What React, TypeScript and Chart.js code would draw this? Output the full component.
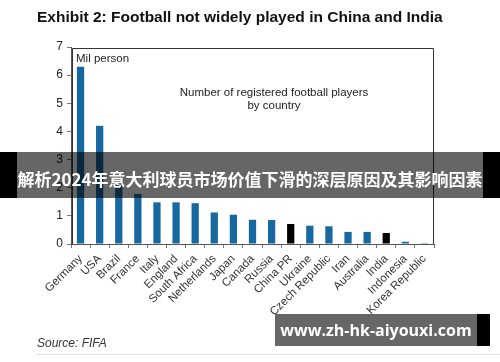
import React, { useEffect, useRef } from "react";
import { Chart, registerables } from "chart.js";

Chart.register(...registerables);

const categories = [
  "Germany", "USA", "Brazil", "France", "Italy", "England", "South Africa",
  "Netherlands", "Japan", "Canada", "Russia", "China PR", "Ukraine",
  "Czech Republic", "Iran", "Australia", "India", "Indonesia", "Korea Republic",
];
const players = [6.3, 4.2, 2.1, 1.78, 1.48, 1.48, 1.45, 1.12, 1.04, 0.86, 0.85, 0.71, 0.65, 0.63, 0.43, 0.43, 0.39, 0.08, 0.03];
const highlighted = ["China PR", "India"];
const yTicks = [0, 1, 2, 3, 4, 5, 6, 7];

const titleText = "Exhibit 2: Football not widely played in China and India";
const unitText = "Mil person";
const noteLines = ["Number of registered football players", "by country"];
const sourceText = "Source: FIFA";
const bannerText = "解析2024年意大利球员市场价值下滑的深层原因及其影响因素";
const watermarkText = "www.zh-hk-aiyouxi.com";

const BLUE = "#1767a0";
const FONT = "'Liberation Sans', Arial, Helvetica, sans-serif";

const decorPlugin = {
  id: "decor",
  afterDraw(chart: any) {
    const { ctx, chartArea } = chart;
    const { left, top, right, bottom } = chartArea;
    ctx.save();
    // plot box
    ctx.strokeStyle = "#333";
    ctx.lineWidth = 1;
    ctx.beginPath();
    ctx.moveTo(left + 1.5, bottom);
    ctx.lineTo(left + 1.5, top + 1.5);
    ctx.lineTo(right - 0.5, top + 1.5);
    ctx.lineTo(right - 0.5, bottom);
    ctx.stroke();
    // title
    ctx.fillStyle = "#111";
    ctx.font = `bold 15.5px ${FONT}`;
    ctx.textBaseline = "alphabetic";
    ctx.textAlign = "left";
    ctx.fillText(titleText, 37, 22);
    // unit
    ctx.font = `11.5px ${FONT}`;
    ctx.fillStyle = "#222";
    ctx.fillText(unitText, left + 5, top + 15);
    // note
    ctx.textAlign = "center";
    ctx.fillText(noteLines[0], 274, 96);
    ctx.fillText(noteLines[1], 274, 109);
    // source
    ctx.textAlign = "left";
    ctx.font = `italic 12px ${FONT}`;
    ctx.fillStyle = "#333";
    ctx.fillText(sourceText, 37, 347);
    ctx.strokeStyle = "#dde3ea";
    ctx.beginPath();
    ctx.moveTo(36, 354.5);
    ctx.lineTo(500, 354.5);
    ctx.stroke();
    ctx.restore();
  },
};

export default function App() {
  const ref = useRef<HTMLCanvasElement | null>(null);

  useEffect(() => {
    if (!ref.current) return;
    const chart = new Chart(ref.current, {
      type: "bar",
      data: {
        labels: categories,
        datasets: [
          {
            data: players,
            backgroundColor: categories.map((c) => (highlighted.includes(c) ? "#000" : BLUE)),
            barPercentage: 0.38,
            categoryPercentage: 1,
          },
        ],
      },
      options: {
        animation: false,
        responsive: true,
        maintainAspectRatio: false,
        layout: { padding: { left: 0, top: 47, right: 66, bottom: 0 } },
        plugins: { legend: { display: false }, tooltip: { enabled: false }, title: { display: false } },
        scales: {
          x: {
            afterFit: (s: any) => { s.height = 118; },
            grid: { drawOnChartArea: false, tickLength: 4, color: "#777", offset: true },
            border: { color: "#555" },
            ticks: {
              autoSkip: false,
              minRotation: 45,
              maxRotation: 45,
              padding: 4,
              color: "#333",
              font: { size: 11.5, family: FONT },
            },
          },
          y: {
            min: 0,
            max: 7,
            afterFit: (s: any) => { s.width = 71; },
            afterBuildTicks: (s: any) => { s.ticks = yTicks.map((v) => ({ value: v })); },
            grid: { drawOnChartArea: false, tickLength: 4, color: "#777" },
            border: { color: "#555" },
            ticks: { color: "#222", padding: 4, font: { size: 12, family: FONT } },
          },
        },
      },
      plugins: [decorPlugin],
    });
    return () => chart.destroy();
  }, []);

  return (
    <div style={{ position: "absolute", left: 0, top: 0, width: 500, height: 362, background: "#fff", overflow: "hidden" }}>
      <canvas ref={ref} width={500} height={362} />
      <div style={{ position: "absolute", left: 0, top: 152, width: 17, height: 46, background: "#000" }} />
      <div style={{ position: "absolute", left: 483, top: 152, width: 17, height: 46, background: "#000" }} />
      <div
        style={{
          position: "absolute", left: 17, top: 152, width: 466, height: 46,
          background: "rgba(0,0,0,0.6)", color: "#fff",
          font: `bold 17px 'Noto Sans CJK SC', sans-serif`,
          display: "flex", alignItems: "center", justifyContent: "center",
          whiteSpace: "nowrap", paddingTop: 6, boxSizing: "border-box",
        }}
      >
        {bannerText}
      </div>
      <div
        style={{
          position: "absolute", left: 275, top: 314, width: 202, height: 32,
          background: "rgba(0,0,0,0.6)", color: "#fff",
          font: `bold 16px 'Open Sans', sans-serif`,
          display: "flex", alignItems: "center", justifyContent: "center",
          whiteSpace: "nowrap",
        }}
      >
        {watermarkText}
      </div>
      <div style={{ position: "absolute", left: 477, top: 314, width: 13, height: 32, background: "#000" }} />
    </div>
  );
}
